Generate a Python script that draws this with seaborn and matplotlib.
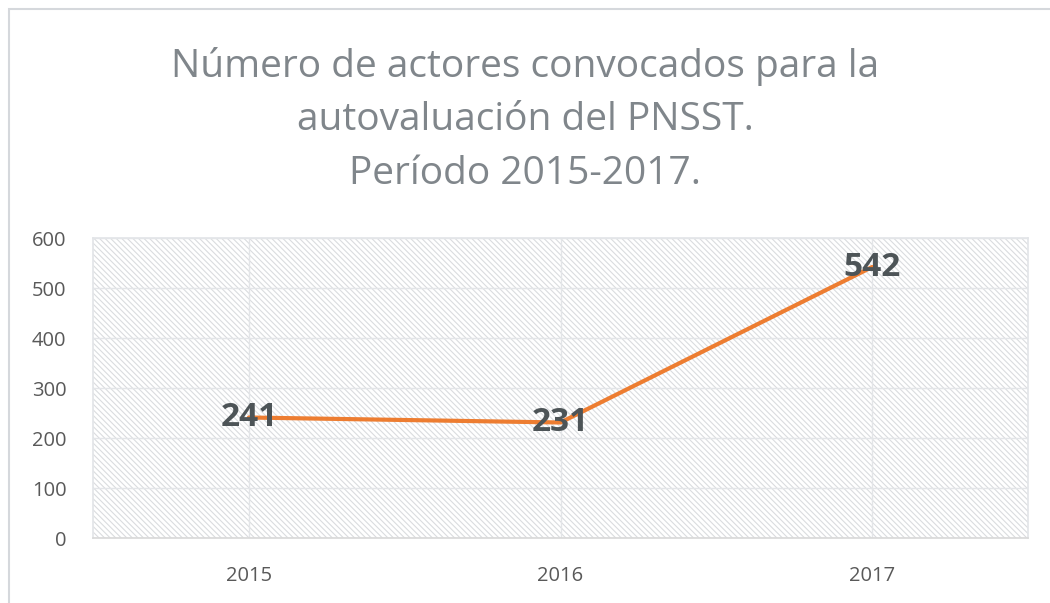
import matplotlib
matplotlib.use("Agg")
import matplotlib.pyplot as plt
import seaborn as sns
import pandas as pd

# --- data ---
years = ["2015", "2016", "2017"]
actores = [241, 231, 542]
title_text = "Número de actores convocados para la\nautovaluación del PNSST.\nPeríodo 2015-2017."

sns.set_theme(style="white")
plt.rcParams['font.family'] = ['Open Sans', 'DejaVu Sans']
plt.rcParams['hatch.color'] = '#DADCDF'
plt.rcParams['hatch.linewidth'] = 0.8

df = pd.DataFrame({"year": years, "actores": actores})

fig = plt.figure(figsize=(10.5, 6.03), dpi=100)
ax = fig.add_axes([93 / 1050, 1 - 538 / 603, 935 / 1050, 300 / 603])

# hatched background
ax.patch.set_facecolor('white')
ax.patch.set_hatch('\\' * 6)
ax.patch.set_edgecolor('#DADCDF')

sns.lineplot(data=df, x="year", y="actores", sort=False, color='#ED7D31',
             linewidth=3, ax=ax, zorder=3)

for i, v in enumerate(actores):
    ax.text(i, v, str(v), ha='center', va='center', fontsize=24,
            fontweight='bold', color='#4D5457', zorder=4)

ax.set_xlim(-0.5, len(years) - 0.5)
ax.set_ylim(0, 600)
ax.set_yticks(range(0, 601, 100))
ax.grid(True, color='#E3E5E8', linewidth=1)
ax.set_axisbelow(True)
ax.set_xlabel("")
ax.set_ylabel("")
for side in ['top', 'right', 'left']:
    ax.spines[side].set_color('#E3E5E8')
ax.spines['bottom'].set_color('#D9D9D9')
ax.tick_params(axis='both', length=0, labelsize=14.5, labelcolor='#595959')
ax.tick_params(axis='y', pad=19)
ax.tick_params(axis='x', pad=20)

fig.text(0.5, 1 - 120 / 603, title_text, ha='center', va='center',
         fontsize=28, color='#80868B', linespacing=1.55)

# outer frame
fig.patches.append(plt.Rectangle((9 / 1050, -0.01), 1.1, 1 - 9 / 603 + 0.01,
                                 transform=fig.transFigure, fill=False,
                                 edgecolor='#D5D8DC', linewidth=1.5))

fig.savefig("out.png", dpi=100)
